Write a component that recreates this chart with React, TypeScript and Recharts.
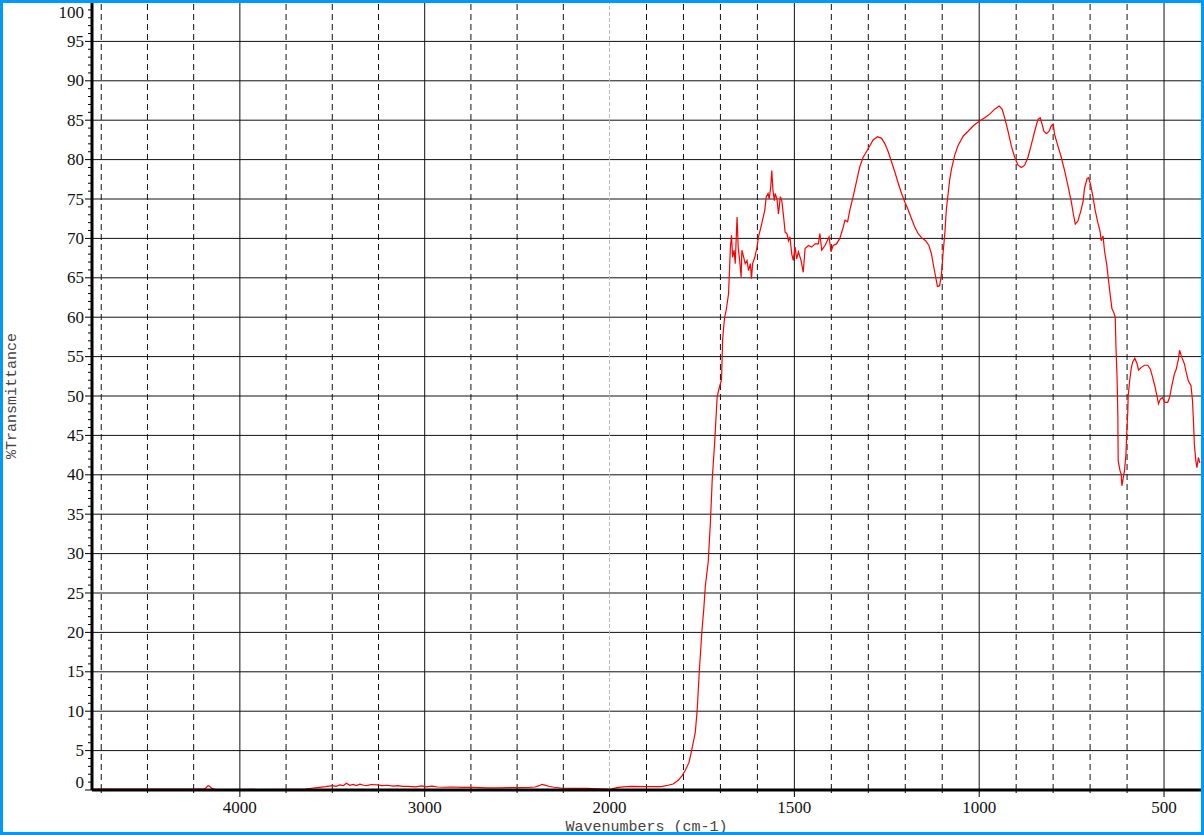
import { LineChart, Line, XAxis, YAxis, ReferenceLine } from "recharts";

// wavenumber (cm-1) / %T, split by region
const baselineWn = [4790, 4670, 4610, 4410, 4200, 4186, 4172, 4165, 4152, 4130, 3740, 3647, 3580, 3536, 3499, 3480, 3461, 3440, 3424, 3405, 3387, 3370, 3350, 3330, 3313, 3290, 3257, 3230, 3201, 3170, 3146, 3120, 3090, 3050, 3016, 2990, 2960, 2930, 2904, 2850, 2800, 2756, 2700, 2663, 2600, 2540, 2496, 2440, 2403, 2380, 2366, 2350, 2329, 2300, 2254, 2200, 2124, 2060, 2013, 2000, 1980, 1963, 1941, 1905, 1860, 1842, 1828, 1815, 1804];
const baselineT = [0.1, 0.12, 0.12, 0.1, 0.1, 0.2, 0.55, 0.5, 0.2, 0.05, 0.08, 0.13, 0.3, 0.43, 0.56, 0.45, 0.65, 0.55, 0.85, 0.6, 0.7, 0.55, 0.75, 0.6, 0.55, 0.7, 0.65, 0.55, 0.6, 0.5, 0.55, 0.45, 0.45, 0.4, 0.52, 0.4, 0.48, 0.38, 0.35, 0.38, 0.33, 0.35, 0.3, 0.26, 0.28, 0.3, 0.3, 0.32, 0.38, 0.55, 0.72, 0.62, 0.48, 0.35, 0.22, 0.2, 0.22, 0.15, 0.12, 0.05, 0.3, 0.4, 0.47, 0.42, 0.42, 0.6, 0.76, 1.2, 1.8];

const riseWn = [1795, 1785, 1778, 1768, 1763, 1757, 1750, 1745, 1741, 1733, 1727, 1722, 1716, 1709, 1705, 1697, 1694, 1689, 1684, 1678, 1673, 1670, 1667, 1663, 1660, 1655, 1652, 1648, 1644, 1642, 1637, 1633, 1628, 1624, 1619, 1616, 1613, 1607, 1601, 1597, 1588, 1580, 1576, 1571, 1568, 1564, 1561, 1558, 1554, 1552, 1547, 1543, 1538, 1534, 1529, 1525, 1520, 1516, 1512, 1507, 1503, 1498, 1494, 1489, 1482, 1476, 1471, 1462, 1453, 1444, 1435, 1431, 1426, 1417, 1406, 1401, 1395, 1386, 1377, 1368, 1363, 1356, 1350, 1341, 1332, 1323, 1314, 1305];
const riseT = [2.5, 3.5, 5.0, 7.3, 10.1, 15.2, 20.2, 23, 25.8, 29.0, 34.1, 39.6, 43.8, 49.8, 50.7, 52.1, 57.2, 59.9, 61.0, 63, 68.9, 70.4, 67.6, 68.5, 66.8, 72.7, 68.9, 67.2, 65.1, 68.5, 67.6, 66.8, 67.2, 65.9, 66.8, 64.9, 66.8, 67.6, 68.9, 70.2, 71.9, 73.6, 75.3, 75.7, 75, 76.5, 78.6, 76.1, 74.8, 75.7, 75, 73.1, 75.3, 74.8, 72.7, 70.8, 70.6, 69.7, 70.2, 68, 67.2, 68.9, 67.4, 68.3, 67.2, 65.7, 68.7, 69.1, 68.9, 69.3, 69.3, 70.6, 68.5, 69.1, 70.2, 68.3, 69.1, 69.3, 70, 71.4, 72.3, 72.1, 73.6, 75.3, 77.2, 79.1, 80.3, 81.0];

const midWn = [1300, 1287, 1275, 1264, 1255, 1246, 1237, 1228, 1219, 1210, 1201, 1192, 1183, 1174, 1165, 1156, 1145, 1136, 1129, 1123, 1117, 1113, 1107, 1102, 1098, 1093, 1089, 1084, 1080, 1075, 1066, 1057, 1043, 1030, 1016, 999, 985, 971, 958, 946, 938, 931, 922, 913, 904, 895, 886, 877, 868, 859, 850, 841, 835, 830, 825, 818, 811, 805, 800, 796, 787, 778, 769, 760, 751, 745, 740, 733, 725, 719, 715, 708, 704, 699, 692, 686, 679, 673, 670, 665, 661, 655, 650];
const midT = [81.4, 82.5, 82.9, 82.7, 82, 81, 79.7, 78.4, 77, 75.7, 74.6, 73.6, 72.5, 71.4, 70.6, 70.1, 69.7, 69.1, 68, 66.4, 64.9, 63.9, 64, 65.5, 68, 70.6, 73.6, 75.7, 77.4, 78.8, 80.6, 81.8, 83, 83.6, 84.3, 84.9, 85.3, 85.8, 86.4, 86.8, 86.4, 85.3, 83.6, 81.7, 80.3, 79.3, 79, 79.3, 80.3, 81.9, 83.6, 85.1, 85.3, 84.5, 83.6, 83.3, 83.6, 84.3, 84.5, 83.2, 81.7, 80.3, 78.6, 76.7, 74.7, 73, 71.8, 72.2, 73.5, 74.7, 76.4, 77.6, 77.7, 76.9, 75.2, 73.5, 72, 70.9, 69.7, 70.3, 68.4, 66.7, 64.6];

const lowWn = [646, 641, 636, 632, 630, 627, 625, 624, 619, 616, 614, 610, 607, 603, 601, 598, 597, 593, 589, 585, 579, 573, 569, 562, 553, 544, 537, 531, 525, 519, 515, 510, 504, 498, 490, 485, 479, 472, 467, 461, 458, 452, 445, 440, 434, 427, 423, 420, 418, 414, 411, 407, 403];
const lowT = [63, 61.1, 60.6, 60, 56.2, 52.2, 47.7, 41.8, 40.5, 40.1, 38.6, 39.7, 40.5, 42.6, 45.2, 48.1, 50, 51.9, 53.4, 54.3, 54.8, 54.1, 53.3, 53.6, 53.9, 53.9, 53.4, 52.4, 51.3, 50, 49, 49.6, 49.8, 49.2, 49.2, 49.8, 51.3, 52.8, 53.4, 54.7, 55.8, 54.9, 54.1, 53, 51.9, 51.3, 49.4, 46.4, 43.9, 41.8, 40.9, 42.2, 41.5];

const gridWn = [4750, 4500, 4250, 4000, 3750, 3500, 3250, 3000, 2750, 2500, 2250, 2000, 1900, 1800, 1700, 1600, 1500, 1400, 1300, 1200, 1100, 1000, 900, 800, 700, 600, 500];
const labelWn = [4000, 3000, 2000, 1500, 1000, 500];
const yTicks = Array.from({ length: 101 }, (_, i) => i);
const yGrid = [5, 10, 15, 20, 25, 30, 35, 40, 45, 50, 55, 60, 65, 70, 75, 80, 85, 90, 95];

// the x axis is expanded 2x below 2000 cm-1
const toU = (w: number) => (w >= 2000 ? 4800 - w : 2800 + (2000 - w) * 2);
const fromU = (u: number) => (u <= 2800 ? 4800 - u : 2000 - (u - 2800) / 2);

const data = [
  ...baselineWn.map((w, i) => ({ u: toU(w), t: baselineT[i] })),
  ...riseWn.map((w, i) => ({ u: toU(w), t: riseT[i] })),
  ...midWn.map((w, i) => ({ u: toU(w), t: midT[i] })),
  ...lowWn.map((w, i) => ({ u: toU(w), t: lowT[i] })),
];

const tickFont = { fontFamily: "'Liberation Serif', 'Times New Roman', serif", fontSize: 17, fill: "#111" };
const titleFont = { fontFamily: "'Liberation Mono', 'DejaVu Sans Mono', monospace", fontSize: 15, fill: "#444" };

function YTick({ x, y, payload }: any) {
  const v = payload.value;
  const major = v % 5 === 0;
  const dy = v === 0 ? -8 : v === 100 ? 10 : 0;
  return (
    <g>
      <line x1={x - (major ? 7 : 4)} x2={x} y1={y} y2={y} stroke="#000" strokeWidth={1} />
      {major && (
        <text x={x - 8} y={y + dy} textAnchor="end" dominantBaseline="central" {...tickFont}>
          {v}
        </text>
      )}
    </g>
  );
}

function XTick({ x, y, payload }: any) {
  const w = Math.round(fromU(payload.value));
  const major = labelWn.includes(w);
  return (
    <g>
      <line x1={x} x2={x} y1={y} y2={y + (major ? 7 : 3)} stroke="#000" strokeWidth={1} />
      {major && (
        <text x={x} y={y + 17} textAnchor="middle" dominantBaseline="central" {...tickFont}>
          {w}
        </text>
      )}
    </g>
  );
}

export default function App() {
  return (
    <div style={{ position: "absolute", left: 0, top: 0, width: 1204, height: 835, background: "#fff", overflow: "hidden" }}>
      <LineChart width={1204} height={835} data={data} margin={{ top: 2, right: 3, bottom: 0, left: 0 }}>
        <XAxis
          dataKey="u"
          type="number"
          domain={[0, 6000]}
          allowDataOverflow
          ticks={gridWn.map(toU)}
          interval={0}
          tick={<XTick />}
          tickLine={false}
          tickSize={0}
          tickMargin={0}
          height={45}
          axisLine={{ stroke: "#000", strokeWidth: 3 }}
          label={(p: any) => {
            const vb = p.viewBox || { x: 92, y: 790, width: 1109 };
            return (
              <text x={vb.x + vb.width / 2} y={vb.y + 41} textAnchor="middle" {...titleFont}>
                Wavenumbers (cm-1)
              </text>
            );
          }}
        />
        <YAxis
          type="number"
          domain={[0, 100]}
          allowDataOverflow
          ticks={yTicks}
          interval={0}
          tick={<YTick />}
          tickLine={false}
          tickSize={0}
          tickMargin={0}
          width={92}
          axisLine={{ stroke: "#000", strokeWidth: 3 }}
          label={(p: any) => {
            const vb = p.viewBox || { x: 0, y: 2, height: 788 };
            const cx = vb.x + 12;
            const cy = vb.y + vb.height / 2;
            return (
              <text x={cx} y={cy} textAnchor="middle" dominantBaseline="central" transform={`rotate(-90 ${cx} ${cy})`} {...titleFont}>
                %Transmittance
              </text>
            );
          }}
        />
        {yGrid.map((v) => (
          <ReferenceLine key={`h${v}`} y={v} stroke="#111" strokeWidth={1} />
        ))}
        {gridWn.map((w) => (
          <ReferenceLine
            key={`v${w}`}
            x={toU(w)}
            stroke={w === 2000 ? "#b8b8b8" : "#111"}
            strokeWidth={1}
            strokeDasharray={w === 2000 ? "4 2" : labelWn.includes(w) ? undefined : "6 4"}
          />
        ))}
        <Line
          type="linear"
          dataKey="t"
          stroke="#ff0000"
          strokeWidth={1.2}
          dot={false}
          activeDot={false}
          isAnimationActive={false}
        />
      </LineChart>
      <div
        style={{
          position: "absolute",
          left: 0,
          top: 0,
          width: 1204,
          height: 835,
          boxSizing: "border-box",
          border: "3px solid #0099ff",
          pointerEvents: "none",
        }}
      />
    </div>
  );
}
